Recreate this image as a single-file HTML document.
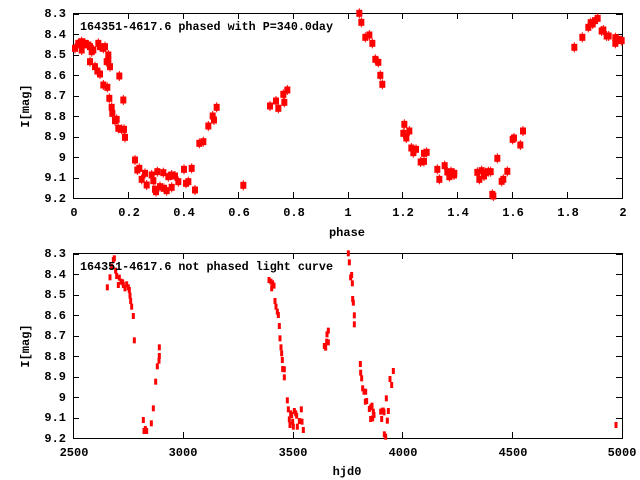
<!DOCTYPE html>
<html><head><meta charset="utf-8"><style>
html,body{margin:0;padding:0;background:#fff}
svg{display:block}
text{font-family:"Liberation Mono","DejaVu Sans Mono",monospace;font-weight:bold;font-size:12px;fill:#000}
</style></head><body>
<svg id="s" width="640" height="480" viewBox="0 0 640 480" xmlns="http://www.w3.org/2000/svg">
<rect width="640" height="480" fill="#fff"/>
<g fill="none" stroke="#000" stroke-width="1" shape-rendering="crispEdges">
<rect x="73.5" y="13.5" width="549" height="185"/>
<rect x="73.5" y="253.5" width="549" height="185"/>
<path id="ticks" d=""/>
</g>
<g id="pts"></g>
<g text-anchor="end">
<text x="66" y="17">8.3</text><text x="66" y="38">8.4</text><text x="66" y="58">8.5</text><text x="66" y="79">8.6</text><text x="66" y="99">8.7</text><text x="66" y="120">8.8</text><text x="66" y="140">8.9</text><text x="66" y="161">9</text><text x="66" y="181">9.1</text><text x="66" y="202">9.2</text>
<text x="66" y="257">8.3</text><text x="66" y="278">8.4</text><text x="66" y="298">8.5</text><text x="66" y="319">8.6</text><text x="66" y="339">8.7</text><text x="66" y="360">8.8</text><text x="66" y="380">8.9</text><text x="66" y="401">9</text><text x="66" y="421">9.1</text><text x="66" y="442">9.2</text>
</g>
<g text-anchor="middle">
<text x="74" y="216">0</text><text x="129" y="216">0.2</text><text x="184" y="216">0.4</text><text x="239" y="216">0.6</text><text x="294" y="216">0.8</text><text x="348" y="216">1</text><text x="403" y="216">1.2</text><text x="458" y="216">1.4</text><text x="513" y="216">1.6</text><text x="568" y="216">1.8</text><text x="623" y="216">2</text>
<text x="74" y="456">2500</text><text x="183" y="456">3000</text><text x="293" y="456">3500</text><text x="403" y="456">4000</text><text x="513" y="456">4500</text><text x="622" y="456">5000</text>
<text x="347" y="236">phase</text>
<text x="347" y="475">hjd0</text>
<text transform="translate(29,106) rotate(-90)">I[mag]</text>
<text transform="translate(29,346) rotate(-90)">I[mag]</text>
</g>
<text x="80" y="30" textLength="253" lengthAdjust="spacingAndGlyphs">164351-4617.6 phased with P=340.0day</text>
<text x="80" y="270" textLength="253" lengthAdjust="spacingAndGlyphs">164351-4617.6 not phased light curve</text>
</svg>
<script>
var NS="http://www.w3.org/2000/svg";
var d="";
for(var i=0;i<10;i++){var y1=13.5+i*20.5,y2=253.5+i*20.5;y1=Math.round(y1)+.5;y2=Math.round(y2)+.5;
d+="M73,"+y1+"h6M622,"+y1+"h-6M73,"+y2+"h6M622,"+y2+"h-6";}
for(var i=0;i<=10;i++){var x=Math.round(73+i*54.9)+.5;d+="M"+x+",198v-6M"+x+",13v6";}
for(var i=0;i<=5;i++){var x=Math.round(73+i*109.8)+.5;d+="M"+x+",438v-6M"+x+",253v6";}
document.getElementById("ticks").setAttribute("d",d);
var g=document.getElementById("pts");
function add(el,a){var e=document.createElementNS(NS,el);for(var k in a)e.setAttribute(k,a[k]);g.appendChild(e);}
var t1=[[45,145],[55,130],[65,125],[65,150],[75,130],[85,135],[90,140],[95,155],[100,150],[90,185],[105,200],[112,213],[120,222],[115,130],[120,140],[130,145],[135,140],[140,185],[145,180],[145,165],[150,200],[130,255],[142,262],[148,295],[155,322],[157,340],[165,362],[170,358],[175,385],[185,388],[192,388],[195,412],[178,228],[190,300],[225,480],[232,510],[238,505],[245,538],[255,520],[260,555],[275,525],[280,542],[285,568],[292,515],[310,518],[312,565],[320,572],[325,530],[335,525],[335,562],[345,528],[355,545],[372,508],[378,550],[385,545],[395,505],[405,570],[418,430],[430,425],[445,378],[458,348],[462,360],[470,322],[550,556],[630,318],[648,303],[655,325],[670,283],[673,307],[682,270],[288,575],[300,560]];
var t2=[[58,40],[64,67],[76,112],[88,105],[97,130],[106,178],[115,187],[121,226],[127,253],[190,400],[193,373],[199,414],[208,393],[214,444],[220,458],[228,448],[242,486],[252,484],[252,460],[260,457],[292,508],[298,538],[314,497],[322,516],[328,530],[333,515],[342,525],[343,520],[412,517],[418,538],[425,512],[432,528],[437,518],[445,515],[452,515],[457,583],[460,588],[472,475],[485,544],[490,538],[502,514],[518,418],[522,414],[541,435],[549,393],[703,142],[727,112],[745,82],[752,68],[758,72],[765,62],[773,55],[785,93],[790,90],[800,108],[806,108],[826,130],[826,113],[828,120],[835,118],[845,122]];
function sq(x,y){add("line",{x1:x,y1:y-5,x2:x,y2:y+5,stroke:"#f00","stroke-width":1});add("rect",{x:x-3,y:y-3.5,width:6,height:7,fill:"#f00"});}
t1.forEach(function(p){sq(p[0]/3+60,p[1]/3);});
t2.forEach(function(p){sq(p[0]/3+340,p[1]/3);});
var b=[[142,127],[150,97],[155,65],[160,45],[163,40],[167,77],[170,93],[175,120],[178,98],[183,110],[188,112],[190,120],[195,130],[200,118],[205,127],[208,135],[210,152],[212,168],[215,185],[220,213],[223,286],[250,525],[252,558],[256,552],[260,558],[274,535],[280,490],[287,410],[292,364],[297,347],[298,333],[298,307],[627,105],[633,110],[638,115],[642,122],[635,130],[645,168],[648,185],[652,200],[655,210],[658,243],[660,280],[663,307],[665,325],[667,345],[668,372],[673,373],[673,397],[682,466],[685,493],[688,523],[690,540],[692,505],[695,510],[698,530],[700,545],[703,498],[707,505],[710,512],[712,545],[718,528],[724,493],[726,530],[730,555],[793,303],[797,308],[800,290],[805,292],[801,268],[805,257],[865,25],[868,52],[872,97],[875,90],[877,115],[878,162],[880,173],[883,211],[883,238],[901,357],[902,383],[905,400],[908,430],[912,440],[917,440],[916,470],[920,468],[928,492],[932,487],[936,482],[932,522],[938,520],[940,500],[942,510],[962,500],[967,497],[965,522],[970,497],[972,502],[973,568],[977,575],[979,460],[982,527],[985,498],[990,402],[995,420],[1000,378]];
b.forEach(function(p){add("rect",{x:p[0]/3+60-1.5,y:p[1]/3+245-3,width:3,height:6,fill:"#f00"});});
add("rect",{x:614.5,y:422,width:3,height:6,fill:"#f00"});
</script>
</body></html>
